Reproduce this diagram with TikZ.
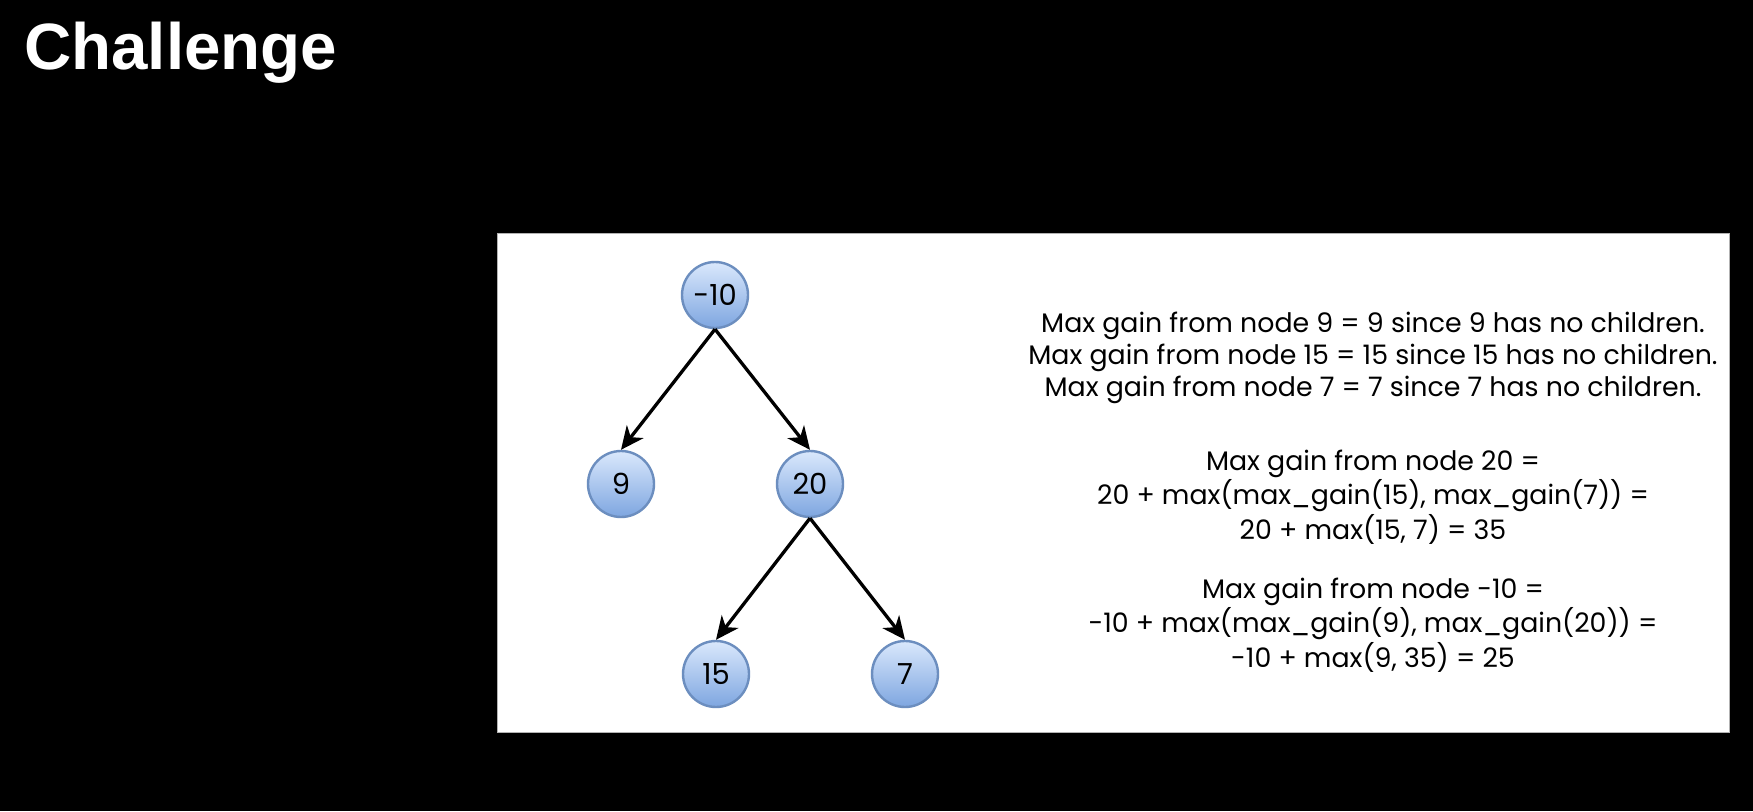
\documentclass[tikz,border=0pt]{standalone}
\usepackage{fontspec}
\setmainfont{Poppins}
\newfontfamily\titlefont{Liberation Sans}
\usetikzlibrary{arrows.meta}

\definecolor{nodetop}{HTML}{DAE8FC}
\definecolor{nodebottom}{HTML}{7EA6E0}
\definecolor{nodeborder}{HTML}{6C8EBF}

\begin{document}
\begin{tikzpicture}[x=1pt, y=-1pt,
  treenode/.style={circle, minimum size=66pt, inner sep=0pt, draw=nodeborder,
    line width=2.4pt, top color=nodetop, bottom color=nodebottom,
    font=\fontsize{29}{29}\selectfont, text=black},
  edge/.style={line width=3.3pt, draw=black,
    -{Stealth[length=23pt, width=21pt, inset=7pt]}},
  note/.style={align=center, font=\fontsize{26.8}{34.5}\selectfont, text=black}
]
% slide background and white canvas
\path[fill=black, use as bounding box] (0,0) rectangle (1753,811);
\path[fill=white, draw=gray!60, line width=1pt] (497.5,233.5) rectangle (1729.5,732.5);

% heading
\node[anchor=base west, inner sep=0pt, text=white,
      font=\titlefont\bfseries\fontsize{65.5}{65.5}\selectfont] (title) at (24,69) {Challenge};

% the binary tree
\node[treenode] (n10) at (715,295) {-10};
\node[treenode] (n9)  at (621,484) {9};
\node[treenode] (n20) at (810,484) {20};
\node[treenode] (n15) at (716,674) {15};
\node[treenode] (n7)  at (905,674) {7};

\draw[edge] (n10.south) -- (n9.north);
\draw[edge] (n10.south) -- (n20.north);
\draw[edge] (n20.south) -- (n15.north);
\draw[edge] (n20.south) -- (n7.north);

% explanation of the max gain computation
\node[note, font=\fontsize{26.8}{32}\selectfont] (leaves) at (1373,357.5) {Max gain from node 9 = 9 since 9 has no children.\\
Max gain from node 15 = 15 since 15 has no children.\\
Max gain from node 7 = 7 since 7 has no children.};
\node[note] (gain20) at (1373,497) {Max gain from node 20 =\\
20 + max(max\_gain(15), max\_gain(7)) =\\
20 + max(15, 7) = 35};
\node[note] (gain10) at (1373,625) {Max gain from node -10 =\\
-10 + max(max\_gain(9), max\_gain(20)) =\\
-10 + max(9, 35) = 25};
\end{tikzpicture}
\end{document}
